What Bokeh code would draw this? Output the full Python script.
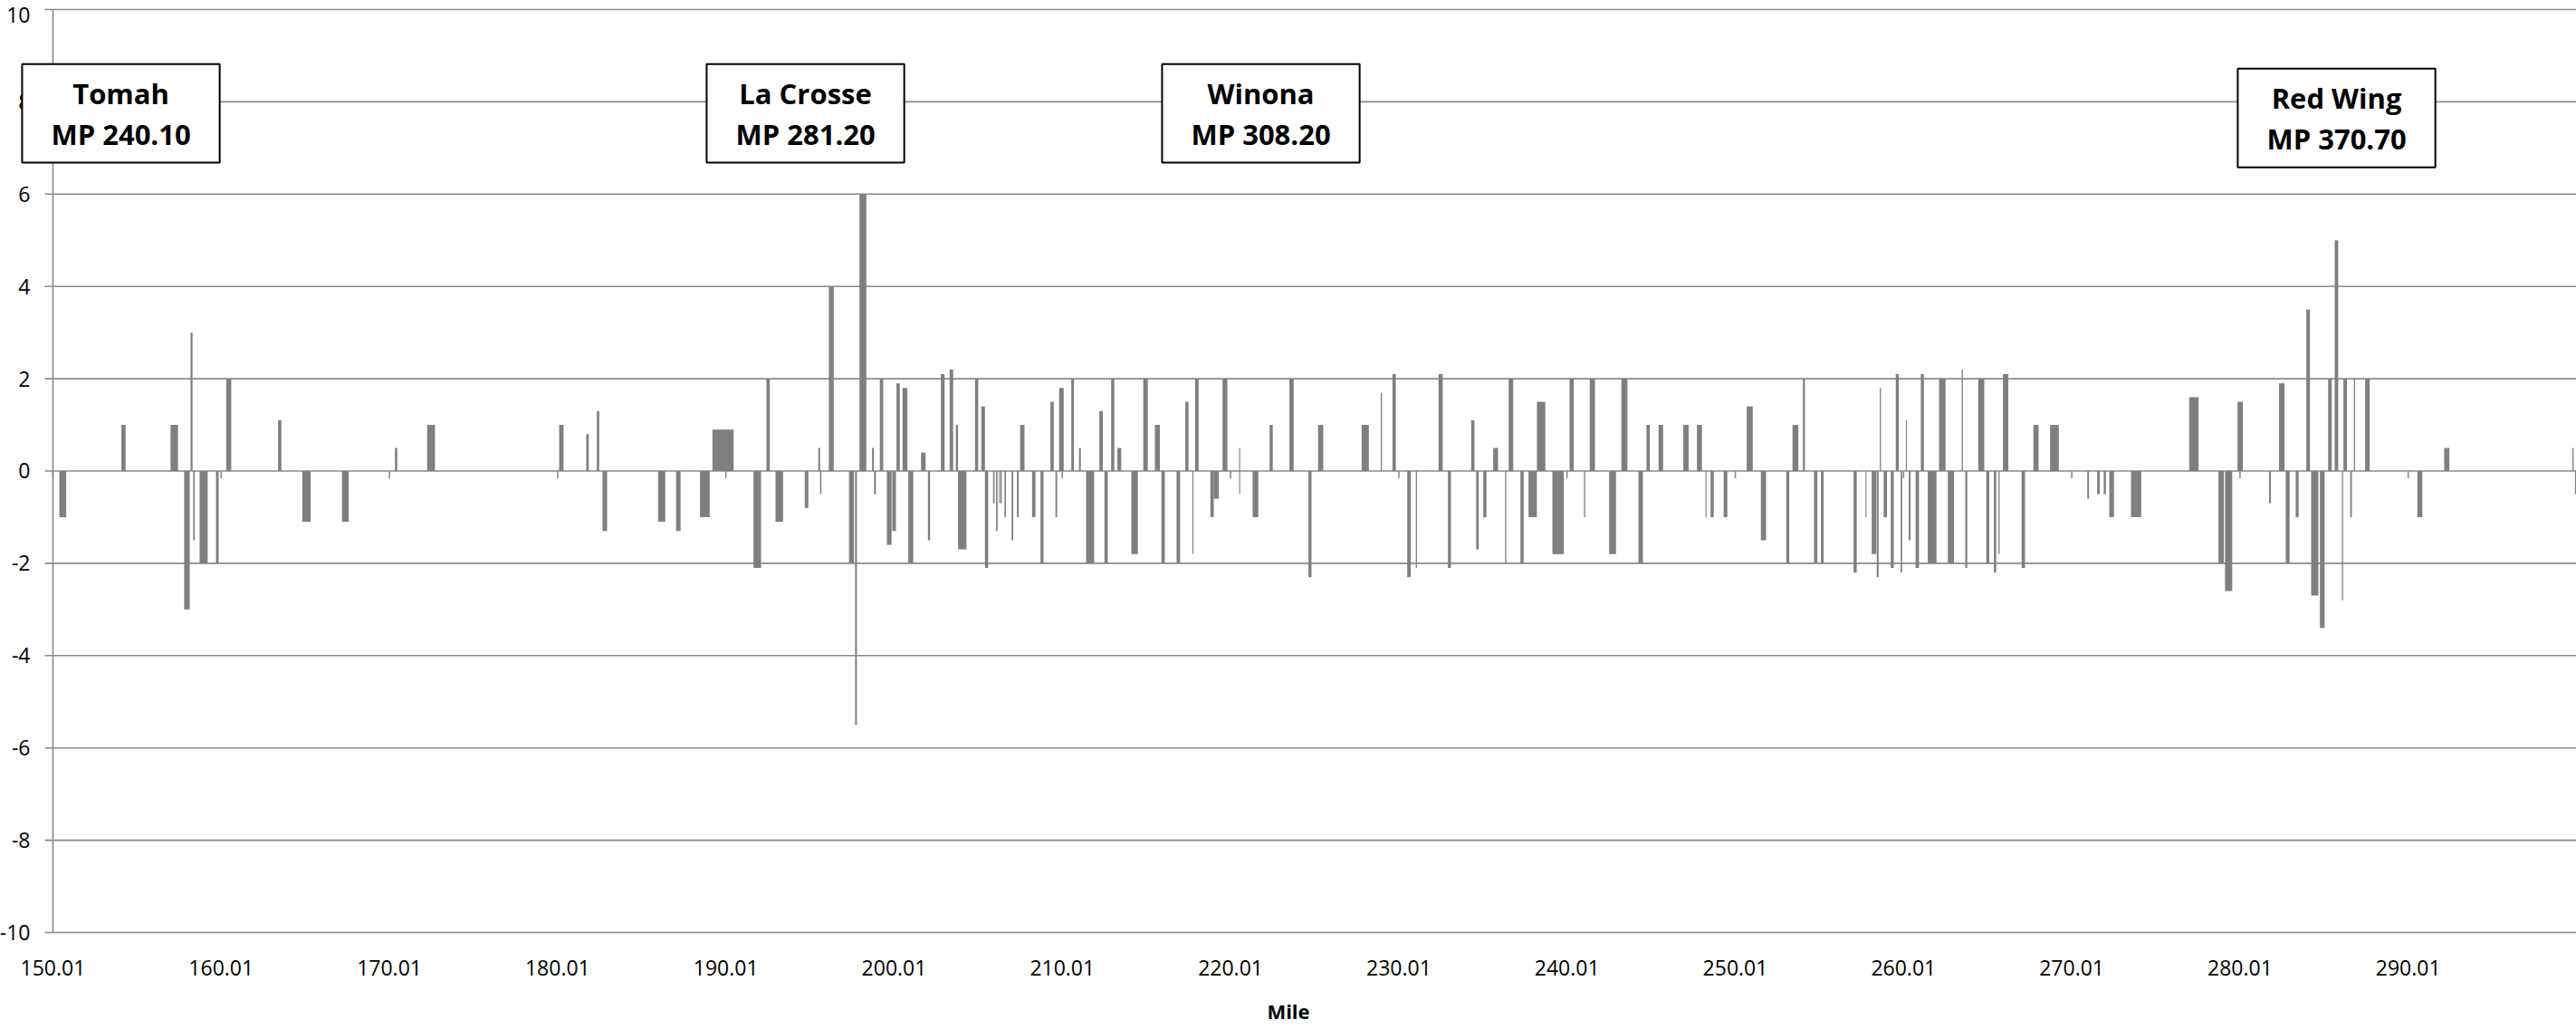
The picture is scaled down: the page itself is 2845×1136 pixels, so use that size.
from bokeh.plotting import figure
from bokeh.models import Range1d, FixedTicker, Label, NumeralTickFormatter
from bokeh.core.properties import value
from bokeh.embed import file_html
from bokeh.resources import INLINE

# ---- data: segments along the line (start mile, end mile, value) ----
seg_start = [150.39, 154.08, 157.00, 157.81, 158.19, 158.35, 158.73, 159.70, 160.31, 163.39,
             164.83, 167.19, 170.34, 172.25, 180.10, 181.71, 182.34, 182.68, 185.98, 187.05,
             188.47, 189.21, 191.65, 192.42, 192.96, 194.70, 195.50, 195.61, 196.13, 197.33,
             197.69, 197.95, 198.70, 198.82, 199.16, 199.58, 199.90, 200.15, 200.51, 200.85,
             201.61, 202.02, 202.79, 203.31, 203.68, 203.81, 204.82, 205.19, 205.41, 205.89,
             206.07, 206.25, 206.34, 206.57, 206.99, 207.31, 207.50, 208.21, 208.71, 209.30,
             209.60, 209.82, 210.54, 211.00, 211.42, 212.21, 212.51, 212.91, 213.28, 214.11,
             214.82, 215.51, 215.90, 216.80, 217.32, 217.74, 217.90, 218.81, 219.01, 219.53,
             220.52, 220.52, 221.32, 222.33, 223.51, 224.64, 225.21, 227.80, 228.94, 229.63,
             230.51, 231.02, 232.37, 232.93, 234.31, 234.61, 235.03, 235.62, 236.33, 236.54,
             237.24, 237.72, 238.22, 239.14, 240.16, 241.02, 241.36, 242.51, 243.24, 244.25,
             244.73, 245.45, 246.92, 247.73, 248.24, 248.54, 249.32, 250.69, 251.53, 253.04,
             253.41, 254.03, 254.69, 255.10, 257.04, 257.75, 258.12, 258.42, 258.60, 258.83,
             259.25, 259.55, 259.84, 260.15, 260.32, 260.73, 261.04, 261.45, 262.12, 262.64,
             263.47, 263.68, 264.45, 264.93, 265.38, 265.65, 265.92, 267.03, 267.73, 268.72,
             270.93, 271.52, 271.91, 272.24, 273.53, 276.99, 278.73, 279.12, 279.86, 281.74,
             282.33, 282.73, 283.32, 283.95, 284.24, 284.76, 285.25, 285.64, 286.07, 286.16,
             286.56, 286.78, 287.45, 290.55, 292.15, 299.77, 299.92]
seg_end = [150.80, 154.33, 157.44, 158.14, 158.31, 158.44, 159.21, 159.86, 160.61, 163.59,
           165.33, 167.59, 170.48, 172.72, 180.36, 181.86, 182.48, 182.95, 186.41, 187.32,
           189.05, 190.47, 192.10, 192.62, 193.41, 194.91, 195.61, 195.69, 196.42, 197.62,
           197.80, 198.36, 198.81, 198.93, 199.36, 199.86, 200.12, 200.35, 200.80, 201.15,
           201.88, 202.15, 203.01, 203.52, 203.81, 204.31, 205.01, 205.41, 205.60, 205.98,
           206.16, 206.31, 206.41, 206.66, 207.09, 207.42, 207.76, 208.41, 208.89, 209.50,
           209.70, 210.09, 210.70, 211.11, 211.90, 212.42, 212.71, 213.10, 213.51, 214.50,
           215.09, 215.81, 216.10, 217.01, 217.51, 217.80, 218.11, 219.01, 219.31, 219.82,
           220.58, 220.58, 221.66, 222.52, 223.76, 224.82, 225.52, 228.23, 229.01, 229.83,
           230.72, 231.09, 232.62, 233.11, 234.51, 234.76, 235.22, 235.91, 236.40, 236.81,
           237.43, 238.22, 238.72, 239.82, 240.41, 241.09, 241.67, 242.92, 243.60, 244.52,
           244.93, 245.72, 247.24, 248.03, 248.30, 248.73, 249.54, 251.05, 251.84, 253.22,
           253.76, 254.15, 254.89, 255.26, 257.23, 257.81, 258.39, 258.53, 258.67, 259.03,
           259.43, 259.73, 259.93, 260.21, 260.43, 260.93, 261.22, 261.97, 262.51, 263.01,
           263.54, 263.80, 264.81, 265.11, 265.52, 265.72, 266.24, 267.23, 268.04, 269.24,
           271.04, 271.68, 272.04, 272.52, 274.14, 277.55, 279.05, 279.55, 280.18, 281.85,
           282.66, 282.96, 283.50, 284.17, 284.67, 285.04, 285.46, 285.85, 286.14, 286.37,
           286.66, 286.85, 287.72, 290.85, 292.46, 299.84, 300.00]
seg_value = [-1.0, 1.0, 1.0, -3.0, 3.0, -1.5, -2.0, -2.0, 2.0, 1.1,
             -1.1, -1.1, 0.5, 1.0, 1.0, 0.8, 1.3, -1.3, -1.1, -1.3,
             -1.0, 0.9, -2.1, 2.0, -1.1, -0.8, 0.5, -0.5, 4.0, -2.0,
             -5.5, 6.0, 0.5, -0.5, 2.0, -1.6, -1.3, 1.9, 1.8, -2.0,
             0.4, -1.5, 2.1, 2.2, 1.0, -1.7, 2.0, 1.4, -2.1, -0.7,
             -1.3, -0.7, -0.7, -1.0, -1.5, -1.0, 1.0, -1.0, -2.0, 1.5,
             -1.0, 1.8, 2.0, 0.5, -2.0, 1.3, -2.0, 2.0, 0.5, -1.8,
             2.0, 1.0, -2.0, -2.0, 1.5, -1.8, 2.0, -1.0, -0.6, 2.0,
             0.5, -0.5, -1.0, 1.0, 2.0, -2.3, 1.0, 1.0, 1.7, 2.1,
             -2.3, -2.1, 2.1, -2.1, 1.1, -1.7, -1.0, 0.5, -2.0, 2.0,
             -2.0, -1.0, 1.5, -1.8, 2.0, -1.0, 2.0, -1.8, 2.0, -2.0,
             1.0, 1.0, 1.0, 1.0, -1.0, -1.0, -1.0, 1.4, -1.5, -2.0,
             1.0, 2.0, -2.0, -2.0, -2.2, -1.0, -1.8, -2.3, 1.8, -1.0,
             -2.1, 2.1, -2.2, 1.1, -1.5, -2.1, 2.1, -2.0, 2.0, -2.0,
             2.2, -2.1, 2.0, -2.0, -2.2, -1.8, 2.1, -2.1, 1.0, 1.0,
             -0.6, -0.5, -0.5, -1.0, -1.0, 1.6, -2.0, -2.6, 1.5, -0.7,
             1.9, -2.0, -1.0, 3.5, -2.7, -3.4, 2.0, 5.0, -2.8, 2.0,
             -1.0, 2.0, 2.0, -1.0, 0.5, 0.5, -0.5]

x_ticks = [150.01, 160.01, 170.01, 180.01, 190.01, 200.01, 210.01, 220.01,
           230.01, 240.01, 250.01, 260.01, 270.01, 280.01, 290.01]
x_tick_labels = ["150.01", "160.01", "170.01", "180.01", "190.01", "200.01", "210.01", "220.01",
                 "230.01", "240.01", "250.01", "260.01", "270.01", "280.01", "290.01"]
y_ticks = [-10, -8, -6, -4, -2, 0, 2, 4, 6, 8, 10]
y_tick_labels = ["-10", "-8", "-6", "-4", "-2", "0", "2", "4", "6", "8", "10"]

station_names = ["Tomah", "La Crosse", "Winona", "Red Wing"]
station_mp = ["MP 240.10", "MP 281.20", "MP 308.20", "MP 370.70"]
station_label_x = [154.05, 194.74, 221.81, 285.75]
station_label_y = [7.75, 7.75, 7.75, 7.65]

# ---- layout / style constants ----
AXIS_X = x_ticks[0]
X_LEFT, X_END = 146.89, 300.01      # view extends left of the value axis for its labels
Y_BOTTOM, Y_TOP = -10.255, 10.196
TICK_X = 0.48                      # horizontal tick length (miles)
TICK_Y = 0.157                     # vertical tick length (value units)

GRAY = "#7f7f7f"
GRID = "#8a8a8a"
FONT = "Open Sans"
LW = 1.6

p = figure(width=2845, height=1136, output_backend="svg", toolbar_location=None,
           x_range=Range1d(X_LEFT, X_END), y_range=Range1d(Y_BOTTOM, Y_TOP),
           min_border_left=0, min_border_right=0, min_border_top=0, min_border_bottom=94)
p.outline_line_color = None
p.background_fill_color = "white"
p.xgrid.visible = False
p.ygrid.visible = False
p.yaxis.visible = False

# x axis (labels at bottom; the axis line itself is drawn at zero)
p.xaxis.ticker = FixedTicker(ticks=x_ticks)
p.xaxis.formatter = NumeralTickFormatter(format="0.00")
p.xaxis.major_label_overrides = {t: s for t, s in zip(x_ticks, x_tick_labels)}
p.xaxis.axis_line_color = None
p.xaxis.major_tick_line_color = None
p.xaxis.major_tick_out = 0
p.xaxis.major_tick_in = 0
p.xaxis.minor_tick_line_color = None
p.xaxis.minor_tick_out = 0
p.xaxis.major_label_standoff = 17
p.xaxis.major_label_text_font = FONT
p.xaxis.major_label_text_font_size = "23px"
p.xaxis.major_label_text_color = "black"
p.xaxis.axis_label = "Mile"
p.xaxis.axis_label_standoff = 21
p.xaxis.axis_label_text_font = FONT
p.xaxis.axis_label_text_font_size = "22px"
p.xaxis.axis_label_text_font_style = "bold"
p.xaxis.axis_label_text_color = "black"

# horizontal gridlines (with their outward tick on the value axis)
n_y = len(y_ticks)
p.segment(x0=[AXIS_X - TICK_X] * n_y, y0=y_ticks, x1=[X_END] * n_y, y1=y_ticks,
          line_color=GRID, line_width=LW)
# value axis line
p.segment(x0=[AXIS_X], y0=[y_ticks[0]], x1=[AXIS_X], y1=[y_ticks[-1]],
          line_color=GRID, line_width=LW)
# value axis labels (the topmost one nudged down so it stays inside the page)
label_style = dict(x_offset=-25, text_align="right", text_baseline="middle",
                   text_font=value(FONT), text_font_size="23px", text_color="black")
p.text(x=[AXIS_X] * (n_y - 1), y=y_ticks[:-1], text=y_tick_labels[:-1], **label_style)
p.text(x=[AXIS_X], y=y_ticks[-1:], text=y_tick_labels[-1:], y_offset=6, **label_style)

# bars
p.quad(left=seg_start, right=seg_end, bottom=0, top=seg_value,
       fill_color=GRAY, line_color=None)

# tick marks of the category axis at zero
n_x = len(x_ticks)
p.segment(x0=x_ticks, y0=[0] * n_x, x1=x_ticks, y1=[-TICK_Y] * n_x,
          line_color=GRID, line_width=LW)

# station boxes
for name, mp, lx, ly in zip(station_names, station_mp, station_label_x, station_label_y):
    p.add_layout(Label(x=lx, y=ly, text=f"{name}\n{mp}", anchor="center",
                       text_align="center", text_baseline="middle",
                       text_font=FONT, text_font_style="bold", text_font_size="31px",
                       text_color="black", text_line_height=1.07,
                       background_fill_color="white", border_line_color="black",
                       border_line_width=2,
                       padding=dict(left=32, right=32, top=11, bottom=11)))

open("out.html", "w").write(file_html(p, INLINE))
